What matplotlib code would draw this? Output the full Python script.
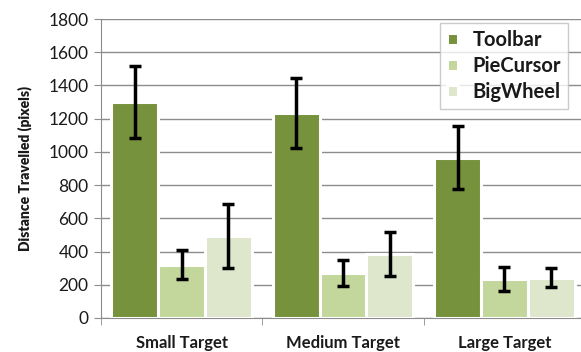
import numpy as np
import matplotlib
matplotlib.use("Agg")
import matplotlib.pyplot as plt

plt.rcParams["font.family"] = ["Lato", "DejaVu Sans"]

categories = ["Small Target", "Medium Target", "Large Target"]
series = ["Toolbar", "PieCursor", "BigWheel"]
toolbar = [1300, 1235, 965]
piecursor = [322, 272, 235]
bigwheel = [492, 385, 243]
toolbar_err = [215, 210, 188]
piecursor_err = [90, 80, 72]
bigwheel_err = [192, 132, 57]
colors = ["#77923C", "#C3D69B", "#DEE7CC"]

fig = plt.figure(figsize=(5.81, 3.52), dpi=100)
ax = fig.add_axes([101 / 581, 1 - 318 / 352, 484 / 581, 299 / 352])

x = np.arange(len(categories))
w = 0.29
for i, (vals, errs) in enumerate([(toolbar, toolbar_err),
                                  (piecursor, piecursor_err),
                                  (bigwheel, bigwheel_err)]):
    pos = x + (i - 1) * w
    ax.bar(pos, vals, width=w, color=colors[i], edgecolor="white",
           linewidth=2.2, label=series[i], zorder=3)
    ax.errorbar(pos, vals, yerr=errs, fmt="none", ecolor="black",
                elinewidth=2.5, capsize=4.5, capthick=2.5, zorder=4)

ax.set_xlim(-0.5, 2.5)
ax.set_ylim(0, 1800)
ax.set_yticks(range(0, 1801, 200))
ax.yaxis.grid(True, color="#8c8c8c", linewidth=1.0, zorder=0)
ax.set_axisbelow(True)

# category labels centred, tick marks on group boundaries
ax.set_xticks(x)
ax.set_xticklabels(categories, fontweight="bold", fontsize=12)
ax.tick_params(axis="x", length=0, pad=12, labelcolor="#1a1a1a")
ax.set_xticks([-0.5, 0.5, 1.5, 2.5], minor=True)
ax.tick_params(axis="x", which="minor", length=5, color="#8c8c8c")
ax.tick_params(axis="y", length=5, color="#8c8c8c", labelsize=12.5, pad=4,
               labelcolor="#1a1a1a")

for s in ["top", "right"]:
    ax.spines[s].set_visible(False)
for s in ["left", "bottom"]:
    ax.spines[s].set_color("#8c8c8c")

ax.set_ylabel("Distance Travelled (pixels)", fontweight="heavy", fontsize=10,
              labelpad=12, color="#1a1a1a")

leg = ax.legend(loc="upper right", bbox_to_anchor=(467 / 484, 1 - 4 / 299),
                prop={"weight": "bold", "size": 14.5}, frameon=True, fancybox=False,
                handlelength=0.55, handleheight=0.55, handletextpad=0.7,
                labelspacing=0.3, borderpad=0.35, borderaxespad=0)
leg.get_frame().set_edgecolor("#bfbfbf")
leg.get_frame().set_linewidth(1.0)
for t in leg.get_texts():
    t.set_color("#1a1a1a")

fig.savefig("out.png", dpi=100)
